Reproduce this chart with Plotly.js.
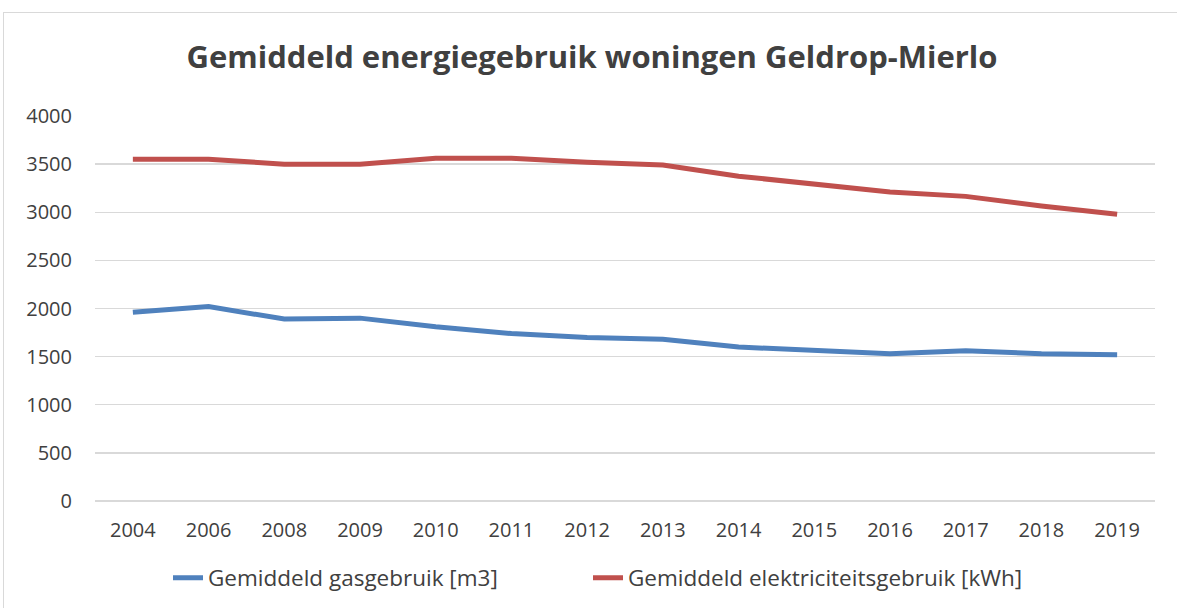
<!DOCTYPE html>
<html>
<head>
<meta charset="utf-8">
<script src="https://cdn.plot.ly/plotly-3.0.1.min.js"></script>
<style>
  html, body { margin: 0; padding: 0; background: #ffffff; overflow: hidden; }
  #frame { position: absolute; left: 3px; top: 12px; width: 1190px; height: 610px; border: 1px solid #d9d9d9; box-sizing: border-box; pointer-events: none; }
  #chart { position: absolute; left: 0; top: 0; width: 1177px; height: 608px; }
</style>
</head>
<body>
<div id="chart"></div>
<div id="frame"></div>
<script>
const years = ["2004","2006","2008","2009","2010","2011","2012","2013","2014","2015","2016","2017","2018","2019"];
const gasName = "Gemiddeld gasgebruik [m3]";
const gasValues = [1960, 2020, 1890, 1900, 1810, 1740, 1700, 1680, 1600, 1570, 1530, 1560, 1530, 1520];
const elecName = "Gemiddeld elektriciteitsgebruik [kWh]";
const elecValues = [3550, 3550, 3500, 3500, 3560, 3560, 3520, 3490, 3375, 3290, 3210, 3165, 3065, 2980];
const yTicks = [0, 500, 1000, 1500, 2000, 2500, 3000, 3500, 4000];
const titleText = "Gemiddeld energiegebruik woningen Geldrop-Mierlo";

const font = "Open Sans, Liberation Sans, Arial, sans-serif";
const traces = [
  { x: years, y: gasValues, name: gasName, type: "scatter", mode: "lines",
    line: { color: "#4F81BD", width: 5 }, legend: "legend" },
  { x: years, y: elecValues, name: elecName, type: "scatter", mode: "lines",
    line: { color: "#C0504D", width: 5 }, legend: "legend2" }
];
const legendFont = { family: font, size: 22.5, color: "#404040" };
const layout = {
  width: 1177, height: 608,
  paper_bgcolor: "rgba(0,0,0,0)", plot_bgcolor: "#ffffff",
  margin: { l: 95, r: 22, t: 116, b: 107 },
  title: { text: "<b>" + titleText + "</b>", x: 592 / 1177, xref: "container", xanchor: "center",
           y: 1 - 57 / 608, yref: "container", yanchor: "middle",
           font: { family: font, size: 31, color: "#404040" } },
  xaxis: { type: "category", range: [-0.5, years.length - 0.5], showgrid: false,
           zeroline: false, showline: false, ticks: "", ticklen: 0, ticklabelstandoff: 15,
           tickfont: { family: font, size: 20, color: "#404040" } },
  yaxis: { range: [0, 4000], tickvals: yTicks, ticktext: yTicks.map(String),
           showgrid: true, gridcolor: "#d9d9d9", gridwidth: 1.3,
           zeroline: true, zerolinecolor: "#d9d9d9", zerolinewidth: 1.3,
           showline: false, ticks: "", ticklen: 0, ticklabelstandoff: 22,
           tickfont: { family: font, size: 20, color: "#404040" } },
  showlegend: true,
  legend: { orientation: "h", x: 168 / 1177, xanchor: "left", xref: "container",
            y: 1 - 578 / 608, yref: "container", yanchor: "middle", font: legendFont },
  legend2: { orientation: "h", x: 588 / 1177, xanchor: "left", xref: "container",
            y: 1 - 578 / 608, yref: "container", yanchor: "middle", font: legendFont }
};
Plotly.newPlot("chart", traces, layout, { displayModeBar: false, staticPlot: true });
</script>
</body>
</html>
